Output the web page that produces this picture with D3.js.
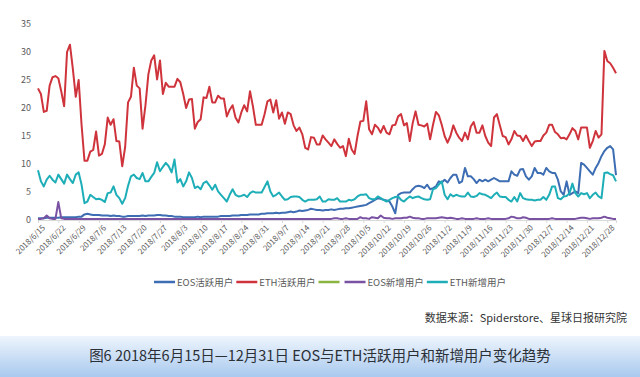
<!DOCTYPE html>
<html>
<head>
<meta charset="utf-8">
<script src="https://cdn.jsdelivr.net/npm/d3@7"></script>
<style>
body { margin: 0; background: #fff; }
svg { display: block; }
</style>
</head>
<body>
<div id="chart"></div>
<script>
// dates: one value per day, 2018/6/15 .. 2018/12/31
const firstDay = '2018/6/15';
const tickLabels = ['2018/6/15', '2018/6/22', '2018/6/29', '2018/7/6', '2018/7/13', '2018/7/20', '2018/7/27',
  '2018/8/3', '2018/8/10', '2018/8/17', '2018/8/24', '2018/8/31', '2018/9/7', '2018/9/14', '2018/9/21',
  '2018/9/28', '2018/10/5', '2018/10/12', '2018/10/19', '2018/10/26', '2018/11/2', '2018/11/9',
  '2018/11/16', '2018/11/23', '2018/11/30', '2018/12/7', '2018/12/14', '2018/12/21', '2018/12/28'];
const yTicks = [0, 5, 10, 15, 20, 25, 30, 35];

const eosActive = [
  0.3, 0.3, 0.3, 0.4, 0.4, 0.4, 0.4, 0.4, 0.5, 0.5,
  0.5, 0.5, 0.5, 0.5, 0.6, 0.6, 1.0, 1.1, 1.0, 0.9,
  0.9, 0.9, 0.8, 0.8, 0.8, 0.7, 0.8, 0.7, 0.7, 0.6,
  0.6, 0.7, 0.7, 0.7, 0.7, 0.7, 0.8, 0.7, 0.8, 0.8,
  0.8, 0.9, 0.9, 0.8, 0.8, 0.7, 0.7, 0.6, 0.6, 0.6,
  0.5, 0.5, 0.5, 0.5, 0.5, 0.6, 0.5, 0.6, 0.6, 0.6,
  0.6, 0.6, 0.6, 0.7, 0.7, 0.7, 0.7, 0.8, 0.8, 0.8,
  0.9, 0.9, 0.9, 1.0, 1.0, 1.0, 1.0, 1.1, 1.1, 1.2,
  1.2, 1.2, 1.3, 1.2, 1.3, 1.3, 1.4, 1.5, 1.4, 1.5,
  1.7, 1.6, 1.7, 1.8, 2.0, 1.9, 1.8, 1.8, 1.7, 1.8,
  1.8, 1.9, 1.8, 1.9, 2.0, 2.0, 2.1, 2.1, 2.2, 2.3,
  2.4, 2.5, 2.6, 2.7, 3.0, 3.3, 3.6, 3.9, 3.8, 3.6,
  3.5, 3.3, 2.4, 1.2, 4.5, 4.8, 4.9, 4.9, 4.9, 5.5,
  6.0, 6.1, 6.0, 5.7, 6.3, 5.5, 5.7, 6.0, 6.9, 6.7,
  7.2, 6.7, 7.5, 8.1, 8.1, 6.6, 6.9, 9.3, 7.8, 7.8,
  7.3, 6.6, 7.2, 6.9, 7.2, 6.9, 7.2, 7.5, 7.2, 6.9,
  6.9, 6.9, 6.9, 8.7, 8.1, 7.9, 9.0, 9.1, 7.8, 7.2,
  7.8, 9.3, 8.4, 8.4, 8.1, 9.3, 8.7, 8.4, 8.4, 7.2,
  5.1, 4.5, 6.9, 4.5, 4.8, 5.1, 4.8, 10.2, 9.9, 9.3,
  8.7, 8.1, 9.3, 10.2, 11.4, 12.3, 12.9, 13.2, 12.6, 8.0
];

const ethActive = [
  23.5, 22.5, 19.3, 19.5, 24, 25.5, 25.7, 25.3, 23, 20.3,
  30, 31.3, 27, 22, 25, 17, 10.6, 10.6, 12.2, 12.5,
  15.8, 11.5, 11.8, 13.5, 18.3, 17, 18, 14.1, 14, 9.6,
  13, 21, 22, 27.2, 24, 23.5, 16.3, 20.5, 26, 28.5,
  29.4, 25.1, 28.5, 22.5, 24.5, 23.8, 23.8, 23.8, 25.2, 24.6,
  22.5, 20, 21.5, 21.6, 16.3, 17.5, 18, 21.9, 21.8, 23.8,
  21, 21, 22.2, 21.7, 21.7, 18.5, 19.7, 20.5, 18.3, 17.4,
  19.2, 20.5, 19.4, 23, 20.3, 17, 17, 17, 18.9, 21.2,
  21.5, 19.2, 21.4, 18.1, 19.2, 17.2, 19.2, 18.9, 16.9, 15.9,
  16.5, 15.3, 12.9, 12.6, 14.8, 14.7, 13.5, 13.5, 15.1, 14.4,
  13.8, 13.2, 14.4, 13.6, 12.9, 13.2, 11.4, 14.5, 12.6, 11.8,
  15, 17.6, 17.7, 21.2, 16.2, 15.3, 17, 16.5, 15.6, 16.8,
  15.6, 15.3, 16.9, 17, 18.5, 18.9, 16.9, 17.3, 14.1, 17.3,
  19.4, 17, 16.9, 16.7, 17.2, 14.4, 17, 19.3, 18.7, 17,
  15, 13.8, 15, 16.9, 15.6, 14.7, 14.1, 15.6, 14.4, 16.7,
  17.5, 15.6, 15.6, 16.9, 15, 13.8, 13.2, 18.3, 18.9, 16.9,
  15, 14.8, 13.5, 14.4, 15.9, 15.1, 15, 14.1, 15.1, 14.1,
  13.2, 14, 14.1, 14.1, 15.1, 15.6, 17, 17, 15.7, 15.3,
  14.6, 14.7, 14.4, 15.3, 16.4, 15.9, 14.4, 16.5, 16.5, 16.5,
  12.9, 14.1, 15.9, 14.7, 15.3, 30.2, 28.4, 28, 27.2, 26.2
];

// third legend entry of the original has a swatch but no label and no visible line
const unnamedSeries = [];

const eosNew = [
  0.2, 0.2, 0.3, 0.8, 0.3, 0.2, 0.2, 3.2, 0.3, 0.2,
  0.2, 0.2, 0.2, 0.2, 0.2, 0.2, 0.2, 0.2, 0.2, 0.2,
  0.2, 0.2, 0.2, 0.2, 0.2, 0.2, 0.2, 0.2, 0.2, 0.2,
  0.2, 0.2, 0.2, 0.2, 0.2, 0.2, 0.2, 0.2, 0.2, 0.2,
  0.2, 0.2, 0.2, 0.2, 0.2, 0.2, 0.2, 0.2, 0.2, 0.2,
  0.2, 0.2, 0.2, 0.2, 0.2, 0.2, 0.2, 0.2, 0.2, 0.2,
  0.2, 0.2, 0.2, 0.2, 0.2, 0.2, 0.2, 0.2, 0.2, 0.2,
  0.2, 0.2, 0.2, 0.2, 0.2, 0.2, 0.2, 0.2, 0.2, 0.2,
  0.2, 0.2, 0.2, 0.2, 0.2, 0.2, 0.2, 0.2, 0.2, 0.2,
  0.2, 0.2, 0.2, 0.2, 0.2, 0.2, 0.2, 0.2, 0.2, 0.2,
  0.2, 0.2, 0.3, 0.3, 0.2, 0.2, 0.3, 0.2, 0.2, 0.2,
  0.2, 0.5, 0.3, 0.3, 0.2, 0.5, 0.4, 0.3, 0.8, 0.4,
  0.3, 0.3, 0.2, 0.3, 0.3, 0.3, 0.4, 0.4, 0.6, 0.4,
  0.3, 0.3, 0.2, 0.2, 0.3, 0.3, 0.3, 0.3, 0.4, 0.5,
  0.4, 0.3, 0.4, 0.3, 0.2, 0.2, 0.3, 0.2, 0.2, 0.2,
  0.2, 0.3, 0.2, 0.2, 0.2, 0.3, 0.2, 0.2, 0.2, 0.2,
  0.2, 0.2, 0.3, 0.6, 0.5, 0.3, 0.3, 0.5, 0.4, 0.2,
  0.2, 0.2, 0.2, 0.2, 0.2, 0.2, 0.2, 0.3, 0.2, 0.2,
  0.2, 0.2, 0.2, 0.2, 0.2, 0.2, 0.3, 0.4, 0.4, 0.3,
  0.2, 0.3, 0.3, 0.3, 0.4, 0.6, 0.4, 0.3, 0.2, 0.2
];

const ethNew = [
  8.9, 6.9, 6, 7.2, 7.9, 7.2, 6.7, 8.1, 7.3, 6.5,
  8.1, 7.3, 6.6, 8.1, 8.5, 6.3, 3, 3.3, 4.5, 4.1,
  3.7, 3.8, 3.6, 3.2, 4.8, 4.9, 6, 4.5, 3.9, 2.9,
  3.9, 6.1, 7.8, 8.1, 7.5, 7.3, 8.4, 6.9, 6.9, 7.7,
  8.4, 10.3, 8.7, 9.5, 10.2, 9.6, 8.5, 10.8, 6.7, 7.3,
  6, 6.9, 8.5, 7.5, 5.7, 6, 5.5, 6.6, 6.9, 6.2,
  5.4, 6.3, 5.1, 4.5, 3.9, 3.3, 4.5, 5.5, 4.5, 4.2,
  4.3, 4.5, 4.1, 4.8, 5.1, 4.9, 4.9, 4.9, 5.9, 6.9,
  5.1, 4.2, 4.5, 4.9, 4.2, 3.6, 3.7, 4.1, 4.2, 4.2,
  4.1, 3.6, 3.3, 3.6, 3.6, 3.6, 3.7, 4.2, 3.3, 3.3,
  3.7, 3.6, 3.6, 3.9, 3.3, 3.3, 3.3, 3.6, 3.5, 3.7,
  4.2, 4.5, 4.5, 4.6, 3.9, 3.7, 3.7, 4.2, 3.9, 3.6,
  3.3, 3.6, 3.9, 4.1, 4.2, 3.6, 3.3, 3.8, 4.2, 3.9,
  4.1, 4.2, 3.9, 3.7, 3.6, 3.7, 5.5, 5.7, 6.3, 6.9,
  4.5, 3.7, 4.6, 4.2, 4.5, 4.3, 4.2, 4.2, 4.9, 4.2,
  4.1, 4.3, 4.8, 4.6, 4.5, 4.2, 3.9, 4.5, 4.9, 4.2,
  4.1, 4.1, 3.6, 3.3, 4.1, 3.3, 4.8, 3.9, 3.7, 3.6,
  3.6, 3.5, 3.6, 3.6, 4.1, 3.6, 4.5, 6, 6, 3.9,
  3.7, 4.2, 4.3, 4.8, 6.5, 4.8, 4.2, 4.8, 4.6, 4.8,
  3.9, 4.5, 4.9, 4.2, 3.9, 8.4, 8.5, 8.2, 8, 6.9
];

const seriesNames = ['EOS活跃用户', 'ETH活跃用户', '', 'EOS新增用户', 'ETH新增用户'];
const seriesValues = [eosActive, ethActive, unnamedSeries, eosNew, ethNew];
const seriesColors = ['#3d6db3', '#cf343c', '#8bb542', '#7a52a3', '#1eaeb8'];

const width = 640, height = 377;
const font = '"Noto Sans CJK SC", "Noto Sans", sans-serif';

const svg = d3.select('#chart')
  .append('svg')
  .attr('width', width)
  .attr('height', height)
  .style('font-family', font);

// bottom caption band
const grad = svg.append('defs').append('linearGradient')
  .attr('id', 'band').attr('x1', 0).attr('y1', 0).attr('x2', 0).attr('y2', 1);
grad.append('stop').attr('offset', '0%').attr('stop-color', '#eef5fd');
grad.append('stop').attr('offset', '100%').attr('stop-color', '#a9c9ee');

svg.append('rect')
  .attr('x', 0).attr('y', 336)
  .attr('width', width).attr('height', height - 336)
  .attr('fill', 'url(#band)');

const parseDay = d3.timeParse('%Y/%m/%d');
const day0 = parseDay(firstDay);
const dayAt = i => d3.timeDay.offset(day0, i);
const tickDates = tickLabels.map(parseDay);

const x = d3.scaleTime()
  .domain([day0, dayAt(eosActive.length - 1)])
  .range([38, 616]);

const y = d3.scaleLinear()
  .domain([0, 35])
  .range([220, 24]);

// y axis labels, no line
svg.append('g')
  .attr('transform', 'translate(38,0)')
  .call(d3.axisLeft(y).tickValues(yTicks).tickSize(0).tickPadding(7))
  .call(g => g.select('.domain').remove())
  .selectAll('text')
  .attr('fill', '#595959')
  .style('font-size', '9px')
  .style('font-family', font);

// x axis
const xAxisG = svg.append('g')
  .attr('transform', 'translate(0,220)')
  .call(d3.axisBottom(x).tickValues(tickDates).tickSize(3).tickFormat((d, i) => tickLabels[i]));

xAxisG.select('.domain').attr('stroke', '#d9d9d9');
xAxisG.selectAll('line').attr('stroke', '#d9d9d9');
xAxisG.selectAll('text')
  .attr('fill', '#595959')
  .style('font-size', '8px')
  .style('font-family', font)
  .attr('text-anchor', 'end')
  .attr('dy', 0)
  .attr('transform', 'translate(3,4) rotate(-45)');

const line = d3.line()
  .x((d, i) => x(dayAt(i)))
  .y(d => y(d));

svg.selectAll('.series')
  .data(seriesValues)
  .enter()
  .append('path')
  .attr('class', 'series')
  .attr('fill', 'none')
  .attr('stroke', (d, i) => seriesColors[i])
  .attr('stroke-width', 2)
  .attr('stroke-linejoin', 'round')
  .attr('d', d => d.length ? line(d) : null);

// legend
const legend = svg.append('g').attr('transform', 'translate(154,282)');
let lx = 0;
seriesNames.forEach((name, i) => {
  legend.append('line')
    .attr('x1', lx).attr('x2', lx + 21)
    .attr('y1', 0).attr('y2', 0)
    .attr('stroke', seriesColors[i])
    .attr('stroke-width', 2.5);
  lx += 23;
  if (name) {
    const t = legend.append('text')
      .attr('x', lx).attr('y', 3.5)
      .attr('fill', '#595959')
      .style('font-size', '9.5px')
      .text(name);
    lx += t.node().getComputedTextLength() + 3;
  } else {
    lx += 3;
  }
});

svg.append('text')
  .attr('x', 627).attr('y', 322)
  .attr('text-anchor', 'end')
  .attr('fill', '#333')
  .style('font-size', '11px')
  .text('数据来源：Spiderstore、星球日报研究院');

svg.append('text')
  .attr('x', 320).attr('y', 361)
  .attr('text-anchor', 'middle')
  .attr('fill', '#2b2f36')
  .style('font-size', '14.5px')
  .text('图6 2018年6月15日—12月31日 EOS与ETH活跃用户和新增用户变化趋势');
</script>
</body>
</html>
